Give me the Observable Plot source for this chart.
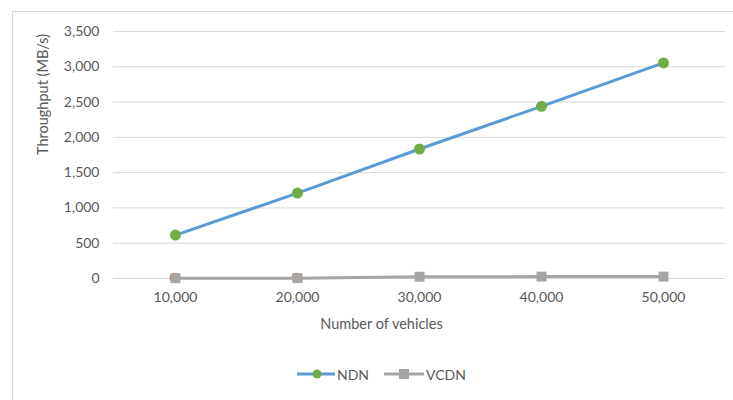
<!DOCTYPE html>
<html>
<head>
<meta charset="utf-8">
<script src="https://cdn.jsdelivr.net/npm/d3@7"></script>
<script src="https://cdn.jsdelivr.net/npm/@observablehq/plot@0.6"></script>
<style>
  html, body { margin: 0; padding: 0; background: #fff; }
  body { width: 733px; height: 400px; position: relative; overflow: hidden; font-family: Lato, "Open Sans", sans-serif; }
  #frame { position: absolute; left: 12px; top: 11px; width: 740px; height: 420px; border: 1px solid #d9d9d9; box-sizing: border-box; }
  #chart { position: absolute; left: 0; top: 0; }
  #legend { position: absolute; top: 364px; left: 0; width: 733px; height: 20px; font-size: 14px; color: #595959; }
  .item { position: absolute; top: 0; display: flex; align-items: center; height: 20px; }
</style>
</head>
<body>
<div id="frame"></div>
<div id="chart"></div>
<div id="legend"></div>
<script>
const categories = ["10,000", "20,000", "30,000", "40,000", "50,000"];
const ndnValues = [615, 1210, 1835, 2440, 3055];
const vcdnValues = [5, 5, 25, 27, 27];
const hiddenCategories = ["10,000", "20,000"];
const hiddenValues = [12, 12];
const yTicks = [0, 500, 1000, 1500, 2000, 2500, 3000, 3500];

const ndn = categories.map((c, i) => ({x: c, y: ndnValues[i]}));
const vcdn = categories.map((c, i) => ({x: c, y: vcdnValues[i]}));
const hidden = hiddenCategories.map((c, i) => ({x: c, y: hiddenValues[i]}));

const plot = Plot.plot({
  width: 733,
  height: 345,
  marginLeft: 113,
  marginRight: 8,
  marginTop: 31,
  marginBottom: 67,
  style: {fontFamily: "Lato, 'Open Sans', sans-serif", fontSize: "14px", color: "#595959", background: "transparent"},
  x: {type: "point", domain: categories, padding: 0.5},
  y: {domain: [0, 3500]},
  marks: [
    Plot.gridY(yTicks, {stroke: "#d9d9d9", strokeOpacity: 1, strokeWidth: 1}),
    Plot.axisY(yTicks, {tickSize: 0, tickPadding: 14, tickFormat: d3.format(","), label: null, fill: "#595959", fontSize: 14}),
    Plot.axisX({tickSize: 0, tickPadding: 14, label: null, fill: "#595959", fontSize: 14}),
    Plot.text(["Throughput (MB/s)"], {frameAnchor: "left", rotate: -90, dx: -70, fill: "#595959", fontSize: 14.5}),
    Plot.text(["Number of vehicles"], {frameAnchor: "bottom", dx: -38, dy: 50, fill: "#595959", fontSize: 14.5}),
    Plot.dot(hidden, {x: "x", y: "y", r: 5, dx: -1, fill: "#ED7D31", stroke: null}),
    Plot.line(ndn, {x: "x", y: "y", stroke: "#5B9BD5", strokeWidth: 3}),
    Plot.dot(ndn, {x: "x", y: "y", r: 5.5, fill: "#70AD47", stroke: null}),
    Plot.line(vcdn, {x: "x", y: "y", stroke: "#A5A5A5", strokeWidth: 3}),
    Plot.dot(vcdn, {x: "x", y: "y", symbol: "square", r: 5.6, fill: "#A5A5A5", stroke: null})
  ]
});
document.getElementById("chart").appendChild(plot);

const legend = document.getElementById("legend");
legend.innerHTML = `
  <div class="item" style="left:297px">
    <svg width="40" height="20"><line x1="0" y1="10" x2="38" y2="10" stroke="#5B9BD5" stroke-width="3"/><circle cx="20" cy="10" r="4.5" fill="#70AD47"/></svg>
    <span>NDN</span>
  </div>
  <div class="item" style="left:384px">
    <svg width="42" height="20"><line x1="0" y1="10" x2="40" y2="10" stroke="#A5A5A5" stroke-width="3"/><rect x="15" y="5" width="10" height="10" fill="#A5A5A5"/></svg>
    <span>VCDN</span>
  </div>`;
</script>
</body>
</html>
